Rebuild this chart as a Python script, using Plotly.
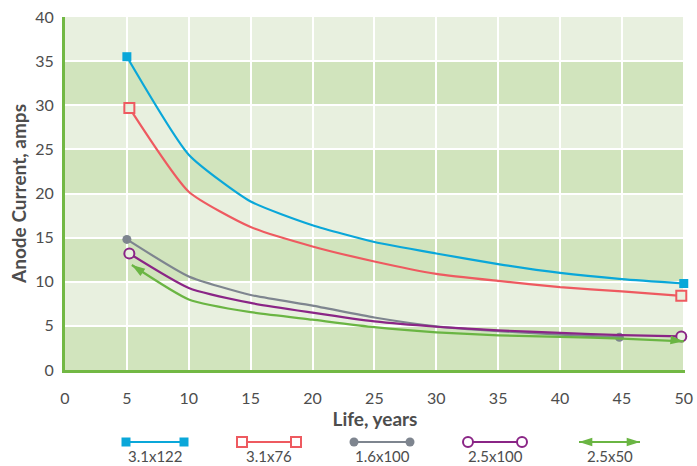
import plotly.graph_objects as go

# ---------------- data ----------------
years_blue = [5, 10, 15, 20, 25, 30, 35, 40, 45, 50]
amps_3_1x122 = [35.5, 24.4, 19.1, 16.4, 14.5, 13.2, 12.0, 11.0, 10.3, 9.8]

years_red = [5.2, 10, 15, 20, 25, 30, 35, 40, 45, 49.8]
amps_3_1x76 = [29.7, 20.2, 16.2, 14.0, 12.3, 10.9, 10.1, 9.4, 8.9, 8.4]

years_gray = [5, 10, 15, 20, 25, 30, 35, 40, 44.8]
amps_1_6x100 = [14.8, 10.6, 8.5, 7.3, 5.95, 4.95, 4.4, 4.0, 3.7]

years_purple = [5.2, 10, 15, 20, 25, 30, 35, 40, 45, 49.8]
amps_2_5x100 = [13.2, 9.3, 7.6, 6.5, 5.5, 4.9, 4.5, 4.2, 3.95, 3.8]

years_green = [5.4, 10, 15, 20, 25, 30, 35, 40, 45, 50]
amps_2_5x50 = [11.9, 8.0, 6.55, 5.7, 4.85, 4.27, 3.93, 3.75, 3.56, 3.25]

series_names = ["3.1x122", "3.1x76", "1.6x100", "2.5x100", "2.5x50"]
x_ticks = [0, 5, 10, 15, 20, 25, 30, 35, 40, 45, 50]
y_ticks = [0, 5, 10, 15, 20, 25, 30, 35, 40]

# ---------------- styles ----------------
FONT = "Lato"
TXT = "#4d4d4d"
GREEN_AX = "#72b844"
BAND_LIGHT = "#e8f0df"
BAND_DARK = "#d1e4bd"

styles = [
    dict(color="#0aa7d9", symbol="square", size=9, lw=0, fill="#0aa7d9", angle=[0, 0]),
    dict(color="#ee5a60", symbol="square", size=10, lw=2, fill=BAND_LIGHT, angle=[0, 0]),
    dict(color="#7e858f", symbol="circle", size=9, lw=0, fill="#7e858f", angle=[0, 0]),
    dict(color="#8a2586", symbol="circle", size=10, lw=2, fill=BAND_LIGHT, angle=[0, 0]),
    dict(color="#6ab543", symbol="arrow", size=14, lw=0, fill="#6ab543", angle=[-56, 96]),
]
data = [
    (years_blue, amps_3_1x122),
    (years_red, amps_3_1x76),
    (years_gray, amps_1_6x100),
    (years_purple, amps_2_5x100),
    (years_green, amps_2_5x50),
]

fig = go.Figure()

for name, (xs, ys), st in zip(series_names, data, styles):
    fig.add_trace(go.Scatter(
        x=xs, y=ys, mode="lines", name=name, showlegend=False,
        line=dict(color=st["color"], width=2.2, shape="spline", smoothing=0.55),
        hoverinfo="skip", cliponaxis=False,
    ))
    fig.add_trace(go.Scatter(
        x=[xs[0], xs[-1]], y=[ys[0], ys[-1]], mode="markers", showlegend=False,
        marker=dict(symbol=st["symbol"], size=st["size"], color=st["fill"],
                    angle=st["angle"],
                    line=dict(color=st["color"], width=st["lw"])),
        hoverinfo="skip", cliponaxis=False,
    ))

# ---------------- custom legend (line with end markers, text below) ----------------
W, H = 697, 466
ML, MR, MT, MB = 65, 12, 17, 0
paper_h = H - MT - MB
plot_bottom_px = 370
ydom0 = (H - MB - plot_bottom_px) / paper_h

legend_left = [126, 242, 354, 468, 579]
legend_right = [184, 296, 410, 522, 640]
legend_line_y = H - 442
legend_text_y = H - 456

for name, st, x0, x1 in zip(series_names, styles, legend_left, legend_right):
    fig.add_trace(go.Scatter(
        x=[x0, x1], y=[legend_line_y, legend_line_y], mode="lines",
        line=dict(color=st["color"], width=2.2), xaxis="x2", yaxis="y2",
        showlegend=False, hoverinfo="skip", cliponaxis=False,
    ))
    ang = [-90, 90] if st["symbol"] == "arrow" else [0, 0]
    fig.add_trace(go.Scatter(
        x=[x0, x1], y=[legend_line_y, legend_line_y], mode="markers",
        marker=dict(symbol=st["symbol"], size=st["size"],
                    color="#ffffff" if st["lw"] else st["fill"], angle=ang,
                    line=dict(color=st["color"], width=st["lw"])),
        xaxis="x2", yaxis="y2", showlegend=False, hoverinfo="skip", cliponaxis=False,
    ))
    fig.add_annotation(
        x=(x0 + x1) / 2, y=legend_text_y, xref="x2", yref="y2", text=name,
        showarrow=False, font=dict(family=FONT, size=15, color=TXT),
        xanchor="center", yanchor="middle",
    )

# ---------------- background bands ----------------
shapes = [dict(type="rect", xref="x domain", yref="y domain", x0=0, x1=1, y0=0, y1=1,
               fillcolor=BAND_LIGHT, line=dict(width=0), layer="below")]
for y0 in range(0, 40, 10):
    shapes.append(dict(type="rect", xref="x domain", yref="y", x0=0, x1=1, y0=y0, y1=y0 + 5,
                       fillcolor=BAND_DARK, line=dict(width=0), layer="below"))

fig.update_layout(
    width=W, height=H,
    margin=dict(l=ML, r=MR, t=MT, b=MB, autoexpand=False),
    paper_bgcolor="#ffffff",
    plot_bgcolor="rgba(0,0,0,0)",
    shapes=shapes,
    font=dict(family=FONT, color=TXT),
    xaxis=dict(
        range=[0, 50.1], domain=[0, 1], anchor="y", automargin=False,
        tickvals=x_ticks, ticktext=[str(v) for v in x_ticks],
        showgrid=True, gridcolor="#ffffff", gridwidth=2,
        zeroline=False, showline=True, linecolor=GREEN_AX, linewidth=3,
        ticks="", ticklabelstandoff=12,
        tickfont=dict(family=FONT, size=16, color=TXT),
        title=dict(text="<b>Life, years</b>", standoff=6,
                   font=dict(family=FONT, size=19, color=TXT)),
    ),
    yaxis=dict(
        range=[0, 40], domain=[ydom0, 1], anchor="x", automargin=False,
        tickvals=y_ticks, ticktext=[str(v) for v in y_ticks],
        showgrid=True, gridcolor="#ffffff", gridwidth=2,
        zeroline=False, showline=True, linecolor=GREEN_AX, linewidth=3,
        ticks="", ticklabelstandoff=5,
        tickfont=dict(family=FONT, size=16, color=TXT),
        title=dict(text="<b>Anode Current, amps</b>", standoff=4,
                   font=dict(family=FONT, size=19, color=TXT)),
    ),
    xaxis2=dict(range=[ML, W - MR], domain=[0, 1], anchor="y2", visible=False, fixedrange=True),
    yaxis2=dict(range=[0, paper_h * ydom0], domain=[0, ydom0], anchor="x2", visible=False, fixedrange=True),
)

fig.write_html("out.html", config={"displayModeBar": False},
               post_script="document.body.style.margin='0';document.body.style.overflow='hidden';")
